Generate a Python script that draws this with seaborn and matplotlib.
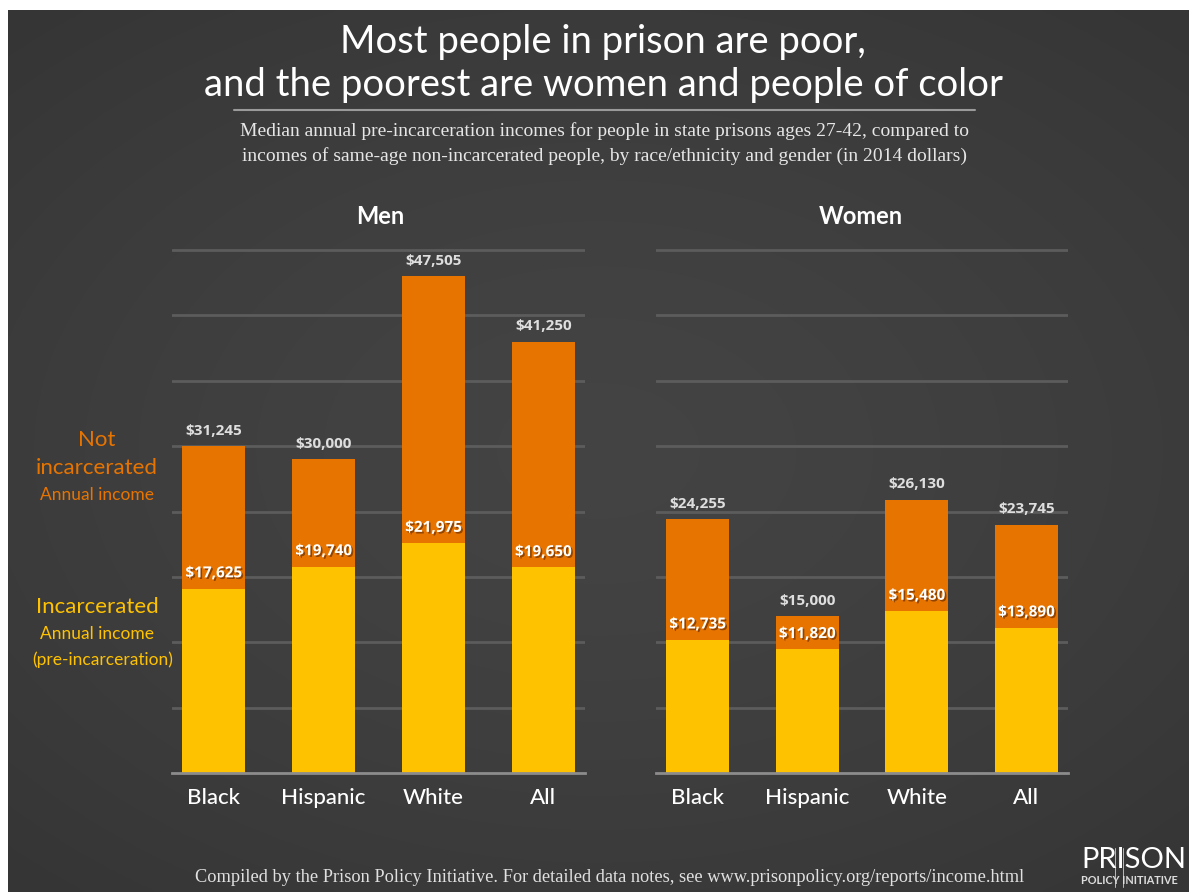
import numpy as np
import pandas as pd
import matplotlib
matplotlib.use("Agg")
import matplotlib.pyplot as plt
import matplotlib.patheffects as pe
from matplotlib.lines import Line2D
import seaborn as sns

# Median annual incomes (2014 dollars), people ages 27-42
races = ["Black", "Hispanic", "White", "All"]
men_incarcerated = [17625, 19740, 21975, 19650]
men_not_incarcerated = [31245, 30000, 47505, 41250]
women_incarcerated = [12735, 11820, 15480, 13890]
women_not_incarcerated = [24255, 15000, 26130, 23745]

ORANGE = "#E87400"
YELLOW = "#FFC200"
W, H = 1189, 892

sns.set_theme(style="dark")
plt.rcParams["font.family"] = ["Lato", "DejaVu Sans"]

fig = plt.figure(figsize=(W / 100, H / 100), dpi=100, facecolor="white")

# dark vignette background
bg = fig.add_axes([8 / W, 0, 1 - 8 / W, (H - 10) / H], zorder=-10)
yy, xx = np.mgrid[-1:1:300j, -1:1:400j]
r = np.sqrt((xx * 0.9) ** 2 + (yy * 1.0) ** 2)
shade = 0.265 - 0.055 * np.clip(r / 1.3, 0, 1) ** 1.5
bg.imshow(np.dstack([shade] * 3), extent=[0, 1, 0, 1], aspect="auto",
          interpolation="bicubic")
bg.set_axis_off()


def fx(px):
    return px / W


def fy(py):
    return 1 - py / H


def panel(left_px, right_px, incarcerated, not_incarcerated):
    ax = fig.add_axes([fx(left_px), fy(773), (right_px - left_px) / W, (773 - 248) / H])
    ax.set_facecolor("none")
    df = pd.DataFrame({"race": races,
                       "incarcerated": incarcerated,
                       "not_incarcerated": not_incarcerated})
    sns.barplot(data=df, x="race", y="not_incarcerated", color=ORANGE,
                saturation=1, width=0.575, linewidth=0, ax=ax, zorder=3)
    sns.barplot(data=df, x="race", y="incarcerated", color=YELLOW,
                saturation=1, width=0.575, linewidth=0, ax=ax, zorder=4)
    ax.set_xlim(-0.38, 3.38)
    ax.set_ylim(0, 50000 * 1.004)
    ax.set_yticks(np.arange(6250, 50001, 6250))
    ax.yaxis.grid(True, color="#5c5c5c", linewidth=2)
    ax.xaxis.grid(False)
    ax.set_axisbelow(True)
    ax.tick_params(axis="y", length=0, labelleft=False)
    ax.tick_params(axis="x", length=0, pad=11, labelsize=16, labelcolor="white")
    for lbl in ax.get_xticklabels():
        lbl.set_fontweight("medium")
    ax.set_xlabel("")
    ax.set_ylabel("")
    for s in ["top", "left", "right"]:
        ax.spines[s].set_visible(False)
    ax.spines["bottom"].set_color("#8c8c8c")
    ax.spines["bottom"].set_linewidth(2)
    ax.spines["bottom"].set_zorder(5)

    shadow = [pe.SimplePatchShadow(offset=(1.2, -1.2), shadow_rgbFace="#6b3000", alpha=0.7),
              pe.Normal()]
    for i, (inc, free) in enumerate(zip(incarcerated, not_incarcerated)):
        ax.annotate(f"${free:,}", (i, free), xytext=(0, 6), textcoords="offset points",
                    ha="center", va="bottom", color="#dedede", fontsize=11,
                    fontweight="bold", family=["Open Sans", "DejaVu Sans"], zorder=6)
        ax.annotate(f"${inc:,}", (i, inc), xytext=(0, 6), textcoords="offset points",
                    ha="center", va="bottom", color="white", fontsize=11,
                    fontweight="bold", family=["Open Sans", "DejaVu Sans"], zorder=6,
                    path_effects=shadow)
    return ax


panel(172, 585, men_incarcerated, men_not_incarcerated)
panel(656, 1068, women_incarcerated, women_not_incarcerated)

# titles
fig.text(fx(603), fy(42), "Most people in prison are poor,", ha="center", va="center",
         color="white", fontsize=27.5)
fig.text(fx(603), fy(85), "and the poorest are women and people of color", ha="center",
         va="center", color="white", fontsize=27.5)
fig.add_artist(Line2D([fx(234), fx(975)], [fy(110), fy(110)], color="#9a9a9a", lw=1.5))
serif = ["Liberation Serif", "DejaVu Serif"]
fig.text(fx(605), fy(131),
         "Median annual pre-incarceration incomes for people in state prisons ages 27-42, compared to",
         ha="center", va="center", color="#e6e6e6", fontsize=14, family=serif)
fig.text(fx(605), fy(156),
         "incomes of same-age non-incarcerated people, by race/ethnicity and gender (in 2014 dollars)",
         ha="center", va="center", color="#e6e6e6", fontsize=14, family=serif)

fig.text(fx(380), fy(217), "Men", ha="center", va="center", color="white",
         fontsize=17, fontweight="bold")
fig.text(fx(861), fy(217), "Women", ha="center", va="center", color="white",
         fontsize=17, fontweight="bold")

# side legend
fig.text(fx(97), fy(440), "Not", ha="center", va="center", color=ORANGE, fontsize=16)
fig.text(fx(97), fy(468), "incarcerated", ha="center", va="center", color=ORANGE, fontsize=16)
fig.text(fx(97), fy(495), "Annual income", ha="center", va="center", color=ORANGE, fontsize=12.5)
fig.text(fx(97), fy(607), "Incarcerated", ha="center", va="center", color=YELLOW, fontsize=16)
fig.text(fx(97), fy(634), "Annual income", ha="center", va="center", color=YELLOW, fontsize=12.5)
fig.text(fx(103), fy(660), "(pre-incarceration)", ha="center", va="center", color=YELLOW,
         fontsize=12.5)

# footer
fig.text(fx(610), fy(877),
         "Compiled by the Prison Policy Initiative. For detailed data notes, see www.prisonpolicy.org/reports/income.html",
         ha="center", va="center", color="#e0e0e0", fontsize=13.2, family=serif)

# logo
fig.text(fx(1081), fy(860), "PRISON", ha="left", va="center", color="white",
         fontsize=21, fontweight="normal")
fig.text(fx(1081), fy(881), "POLICY INITIATIVE", ha="left", va="center", color="#dddddd",
         fontsize=7.8, fontweight="bold")
for xpix in (1114.5, 1123):
    fig.add_artist(Line2D([fx(xpix), fx(xpix)], [fy(848), fy(887)], color="#bbbbbb", lw=0.7))

fig.savefig("out.png", dpi=100, facecolor="white")
